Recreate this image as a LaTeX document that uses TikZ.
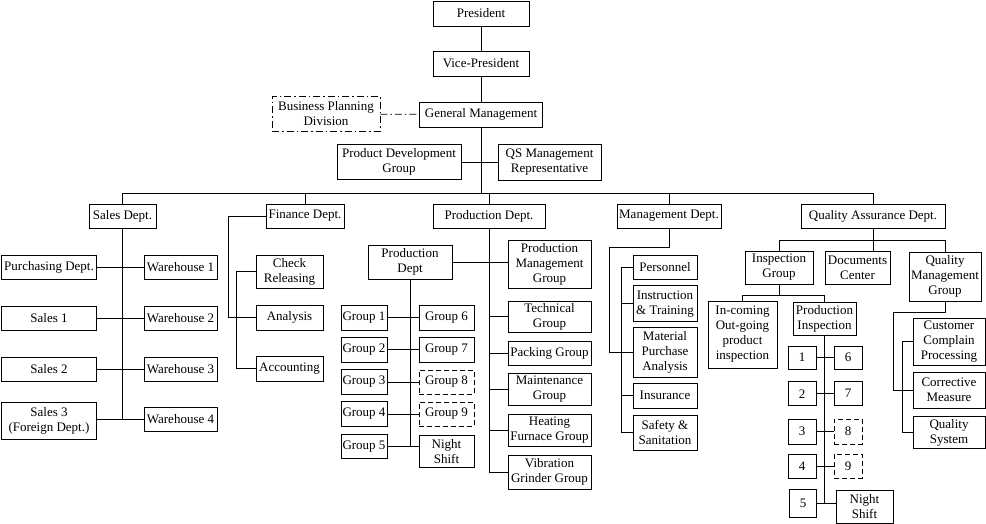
\documentclass[tikz,border=0pt]{standalone}
\usepackage{fontspec}
\setmainfont{Liberation Serif}
\begin{document}
\begin{tikzpicture}[x=1pt,y=-1pt,line width=0.8pt,
  box/.style={draw,rectangle,align=center,inner sep=1pt,font=\fontsize{13}{15}\selectfont},
  sz/.style 2 args={minimum width=#1,minimum height=#2},
  dbox/.style={box,dash pattern=on 5pt off 3pt},
  dashdotline/.style={dash pattern=on 7pt off 3pt on 1.5pt off 3pt}]
\useasboundingbox (0,0) rectangle (986,524);

\node[box,sz={96}{25}] (pres) at (481,13.5) {President};
\node[box,sz={96}{25}] (vp) at (481,63.5) {Vice-President};
\node[box,sz={123}{25}] (gm) at (481,114.5) {General Management};
\node[box,sz={108}{35},dashdotline] (bpd) at (326,114) {Business Planning\\Division};
\node[box,sz={124}{35}] (pdg) at (399,162) {Product Development\\Group};
\node[box,sz={103}{36}] (qsr) at (549.5,162) {QS Management\\Representative};

\node[box,sz={67}{24}] (sales) at (122.5,216) {Sales Dept.};
\node[box,sz={78}{24}] (fin) at (305,216) {Finance Dept.};
\node[box,sz={112}{24}] (prod) at (489,216) {Production Dept.};
\node[box,sz={104}{24}] (mgmt) at (669,216) {Management Dept.};
\node[box,sz={144}{24}] (qa) at (873,216) {Quality Assurance Dept.};

\node[box,sz={95}{24}] (purch) at (49,267.5) {Purchasing Dept.};
\node[box,sz={73}{24}] (wh1) at (180.5,267.5) {Warehouse 1};
\node[box,sz={95}{24}] (s1) at (49,318) {Sales 1};
\node[box,sz={73}{24}] (wh2) at (180.5,318) {Warehouse 2};
\node[box,sz={95}{24}] (s2) at (49,369) {Sales 2};
\node[box,sz={73}{24}] (wh3) at (180.5,369) {Warehouse 3};
\node[box,sz={95}{37}] (s3) at (49,420.5) {Sales 3\\(Foreign Dept.)};
\node[box,sz={73}{24}] (wh4) at (180.5,419) {Warehouse 4};

\node[box,sz={67}{33}] (chk) at (289.5,271.5) {Check\\Releasing};
\node[box,sz={67}{25}] (ana) at (289.5,317.5) {Analysis};
\node[box,sz={67}{25}] (acc) at (289.5,368.5) {Accounting};

\node[box,sz={84}{34}] (pd2) at (410,262) {Production\\Dept};
\node[box,sz={83}{48}] (pmg) at (549.5,264) {Production\\Management\\Group};
\node[box,sz={83}{31}] (tech) at (549.5,316.5) {Technical\\Group};
\node[box,sz={83}{24}] (pack) at (549.5,353.5) {Packing Group};
\node[box,sz={83}{32}] (maint) at (549.5,389) {Maintenance\\Group};
\node[box,sz={83}{32}] (heat) at (549.5,430) {Heating\\Furnace Group};
\node[box,sz={83}{34}] (vib) at (549.5,472) {Vibration\\Grinder Group};

\node[box,sz={46}{25}] (g1) at (364,317.5) {Group 1};
\node[box,sz={46}{25}] (g2) at (364,349.5) {Group 2};
\node[box,sz={46}{25}] (g3) at (364,382) {Group 3};
\node[box,sz={46}{25}] (g4) at (364,414) {Group 4};
\node[box,sz={46}{24}] (g5) at (364,446.5) {Group 5};
\node[box,sz={55}{25}] (g6) at (446.5,317.5) {Group 6};
\node[box,sz={55}{25}] (g7) at (446.5,349.5) {Group 7};
\node[dbox,thick,sz={55}{24}] (g8) at (446.5,382) {Group 8};
\node[dbox,thick,sz={55}{24}] (g9) at (446.5,414) {Group 9};
\node[box,sz={55}{32}] (gns) at (446.5,451.7) {Night\\Shift};

\node[box,sz={64}{24}] (pers) at (665,267) {Personnel};
\node[box,sz={64}{36}] (instr) at (665,303.7) {Instruction\\\& Training};
\node[box,sz={64}{50}] (mpa) at (665,352) {Material\\Purchase\\Analysis};
\node[box,sz={64}{25}] (insur) at (665,395.7) {Insurance};
\node[box,sz={64}{35}] (safety) at (665,432.5) {Safety \&\\Sanitation};

\node[box,sz={68}{33}] (ig) at (779,267.5) {Inspection\\Group};
\node[box,sz={65}{33}] (dc) at (857.5,267.5) {Documents\\Center};
\node[box,sz={72}{49}] (qmg) at (945,276.5) {Quality\\Management\\Group};
\node[box,sz={69}{67}] (inout) at (742.5,334.5) {In-coming\\Out-going\\product\\inspection};
\node[box,sz={63}{33}] (pins) at (824.5,318.5) {Production\\Inspection};

\node[box,sz={28}{23}] (q1) at (802,357.5) {1};
\node[box,sz={28}{24}] (q2) at (802,393.7) {2};
\node[box,sz={28}{25}] (q3) at (802,431.5) {3};
\node[box,sz={28}{24}] (q4) at (802,466) {4};
\node[box,sz={27}{28}] (q5) at (803,503) {5};
\node[box,sz={28}{23}] (q6) at (848,357.5) {6};
\node[box,sz={28}{24}] (q7) at (848,393.7) {7};
\node[dbox,sz={28}{25}] (q8) at (848,431.5) {8};
\node[dbox,sz={28}{24}] (q9) at (848,466) {9};
\node[box,sz={57}{33}] (qns) at (864.5,506.5) {Night\\Shift};

\node[box,sz={72}{47}] (ccp) at (949,341.5) {Customer\\Complain\\Processing};
\node[box,sz={72}{36}] (cm) at (949,390) {Corrective\\Measure};
\node[box,sz={72}{32}] (qsys) at (949,432.5) {Quality\\System};

% top of the chart
\draw (pres) -- (vp);
\draw (vp) -- (gm);
\draw[dashdotline] (bpd) -- (gm);
\draw (pdg) -- (qsr);
\coordinate (bus) at (481,193);
\draw (gm) -- (bus);
\draw (sales |- bus) -- (qa |- bus);
\foreach \d in {sales,fin,prod,mgmt,qa}
  \draw (\d |- bus) -- (\d);

% sales
\draw (sales) -- (sales |- wh4);
\foreach \a/\b in {purch/wh1,s1/wh2,s2/wh3}
  \draw (\a) -- (\b);
\draw (wh4) -- (wh4 -| s3.east);

% finance
\coordinate (fx) at (228,0);
\coordinate (fy) at (236,0);
\draw (fin.west) -- (fin.west -| fx) |- (ana.west);
\draw (chk.west) -- (chk.west -| fy) -- (acc.west -| fy) -- (acc.west);

% production
\draw (prod) -- (prod |- vib);
\foreach \n in {tech,pack,maint,heat,vib}
  \draw (prod |- \n) -- (\n);
\draw (pd2) -- (pd2 -| pmg.west);
\draw (pd2) -- (pd2 |- g5);
\foreach \a/\b in {g1/g6,g2/g7,g3/g8,g4/g9}
  \draw (\a) -- (\b);
\draw (g5) -- (g5 -| gns.west);

% management
\coordinate (mx) at (609,247);
\coordinate (my) at (621,0);
\draw (mgmt) |- (mx) |- (mpa.west);
\draw (pers.west -| my) -- (safety.west -| my);
\foreach \n in {pers,instr,insur,safety}
  \draw (\n.west -| my) -- (\n.west);

% quality assurance
\coordinate (qy) at (0,240);
\coordinate (iy) at (0,295);
\draw (qa) -- (qa |- dc.north);
\draw (ig |- qy) -- (qmg |- qy);
\draw (ig |- qy) -- (ig);
\draw (qmg |- qy) -- (qmg);
\draw (ig) -- (ig |- iy);
\draw (inout |- iy) -- (pins |- iy);
\draw (inout |- iy) -- (inout);
\draw (pins |- iy) -- (pins);
\draw (pins) -- (pins |- q5);
\foreach \a/\b in {q1/q6,q2/q7,q3/q8,q4/q9}
  \draw (\a) -- (\b);
\draw (q5) -- (q5 -| qns.west);

\coordinate (qx) at (893,312);
\coordinate (qz) at (902,0);
\draw (qmg) |- (qx) |- (cm.west);
\draw (ccp.west -| qz) -- (qsys.west -| qz);
\foreach \n in {ccp,qsys}
  \draw (\n.west -| qz) -- (\n.west);
\end{tikzpicture}
\end{document}
